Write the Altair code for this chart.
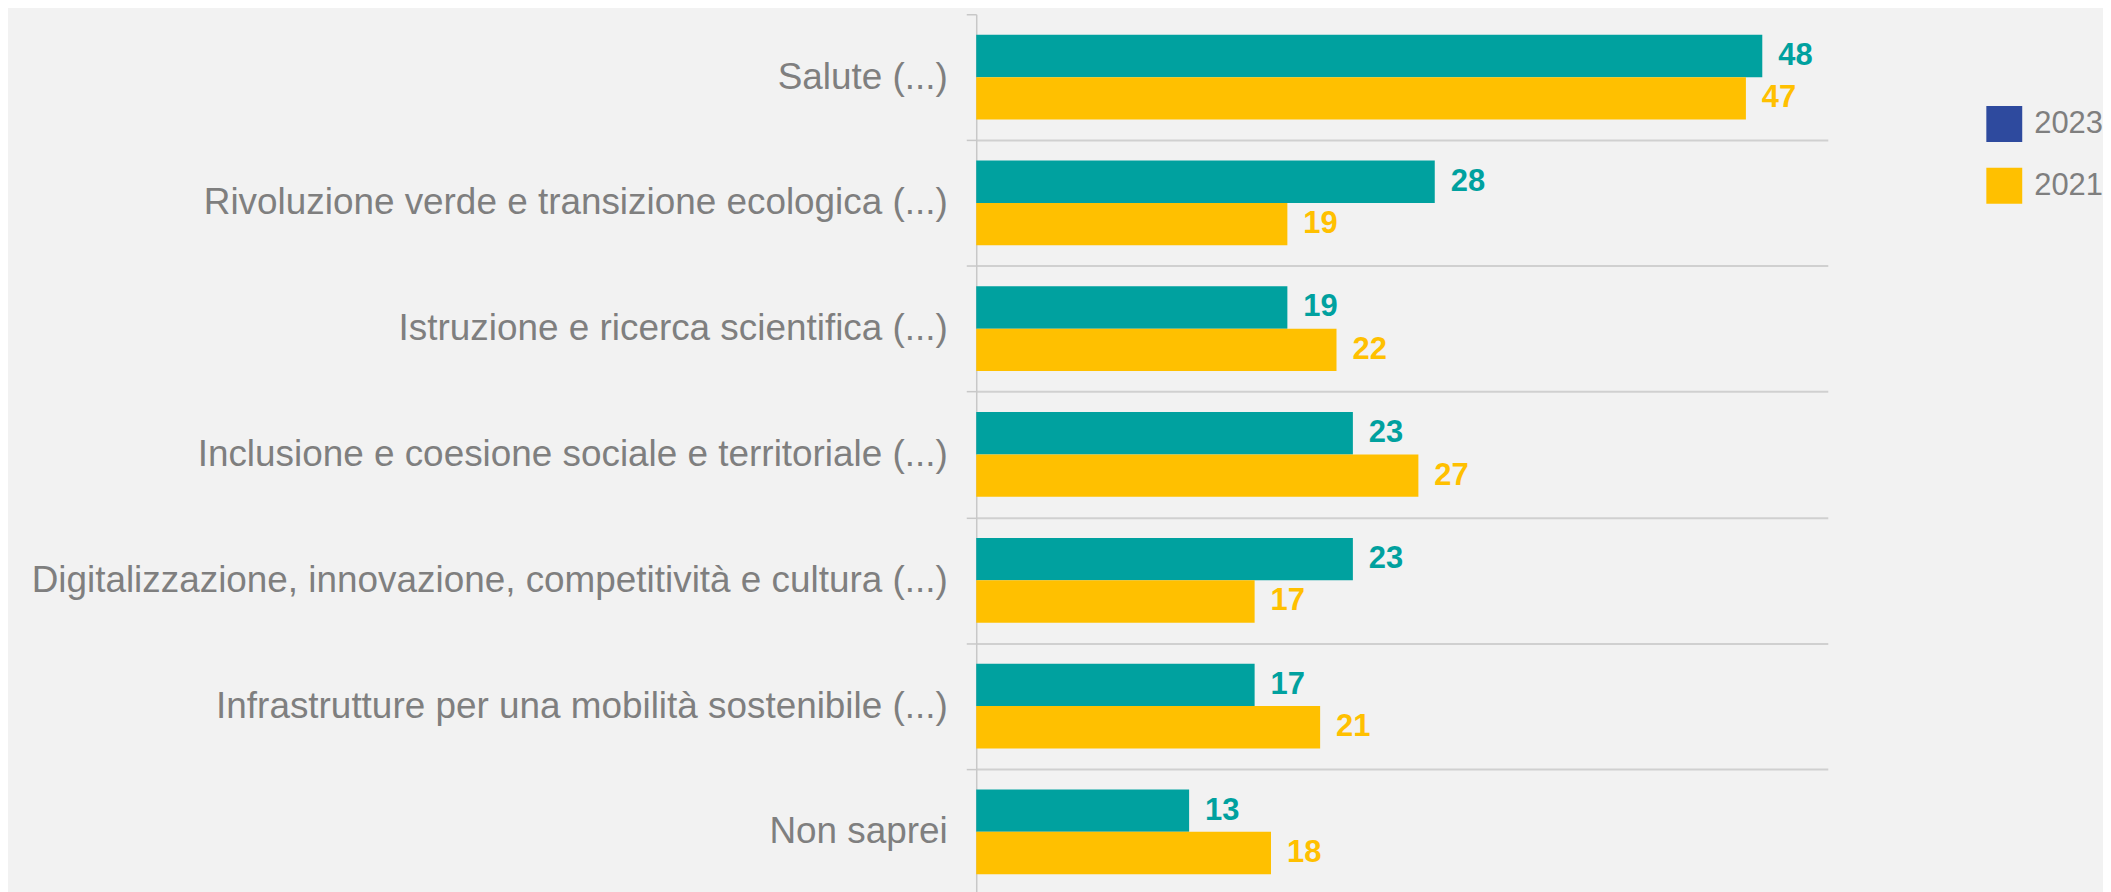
import altair as alt
import pandas as pd

FONT = "Liberation Sans, Arial, sans-serif"

categories = [
    "Salute (...)",
    "Rivoluzione verde e transizione ecologica (...)",
    "Istruzione e ricerca scientifica (...)",
    "Inclusione e coesione sociale e territoriale (...)",
    "Digitalizzazione, innovazione, competitività e cultura (...)",
    "Infrastrutture per una mobilità sostenibile (...)",
    "Non saprei",
]
years = ["2023", "2021"]
values_2023 = [48, 28, 19, 23, 23, 17, 13]
values_2021 = [47, 19, 22, 27, 17, 21, 18]
TEAL = "#00A19F"
GOLD = "#FFC000"
legend_colors = ["#2E4A9E", "#FFC000"]

rows = []
for c, a, b in zip(categories, values_2023, values_2021):
    rows.append({"cat": c, "year": "2023", "value": a})
    rows.append({"cat": c, "year": "2021", "value": b})
df = pd.DataFrame(rows)

EXTRA = "datum.index < 0 || !isValid(datum.value)"
y_axis = alt.Axis(
    tickBand="extent", grid=True, gridColor="#D0D0D0", gridWidth=2,
    gridOpacity=alt.condition(EXTRA, alt.value(0), alt.value(1)),
    domainColor="#C8C8C8", domainWidth=1.5,
    tickColor="#C8C8C8", tickWidth=1.5, tickSize=10, labelPadding=19,
    labelFontSize=alt.condition(EXTRA, alt.value(1), alt.value(37)),
    labelColor="#7F7F7F", labelFont=FONT, labelLimit=0,
)
y_scale = alt.Scale(paddingInner=0, paddingOuter=0)
y = alt.Y("cat:N", sort=categories, title=None, scale=y_scale, axis=y_axis)
x = alt.X("value:Q", scale=alt.Scale(domain=[0, 52]), axis=None)

BAR_H = 42.5
HALF = BAR_H / 2

base = alt.Chart(df)
bars23 = base.transform_filter(alt.datum.year == "2023").mark_bar(
    color=TEAL, height=BAR_H, yOffset=-HALF
).encode(y=y, x=x)
bars21 = base.transform_filter(alt.datum.year == "2021").mark_bar(
    color=GOLD, height=BAR_H, yOffset=HALF
).encode(y=y, x=x)

text_style = dict(align="left", baseline="middle", dx=16, fontSize=31, fontWeight="bold", font=FONT)
text23 = base.transform_filter(alt.datum.year == "2023").mark_text(
    color=TEAL, yOffset=-HALF, **text_style
).encode(y=y, x=x, text="value:Q")
text21 = base.transform_filter(alt.datum.year == "2021").mark_text(
    color=GOLD, yOffset=HALF, **text_style
).encode(y=y, x=x, text="value:Q")

legend_layer = base.mark_square(size=0, opacity=0).encode(
    y=y, x=x,
    color=alt.Color(
        "year:N", sort=years,
        scale=alt.Scale(domain=years, range=legend_colors),
        legend=alt.Legend(
            title=None, orient="none", legendX=1013, legendY=92,
            symbolType="square", symbolSize=1296, symbolStrokeWidth=0,
            symbolOpacity=1,
            labelFontSize=31, labelColor="#7F7F7F", labelFont=FONT,
            labelOffset=12, rowPadding=26, padding=0,
        ),
    ),
)

chart = alt.layer(bars23, bars21, text23, text21, legend_layer).properties(
    width=854, height=883,
    padding={"left": 22, "top": 4, "right": 0, "bottom": 0},
    background="#F2F2F2",
).configure_view(stroke=None)

chart.save("out.html", embed_options={"renderer": "svg", "actions": False})
